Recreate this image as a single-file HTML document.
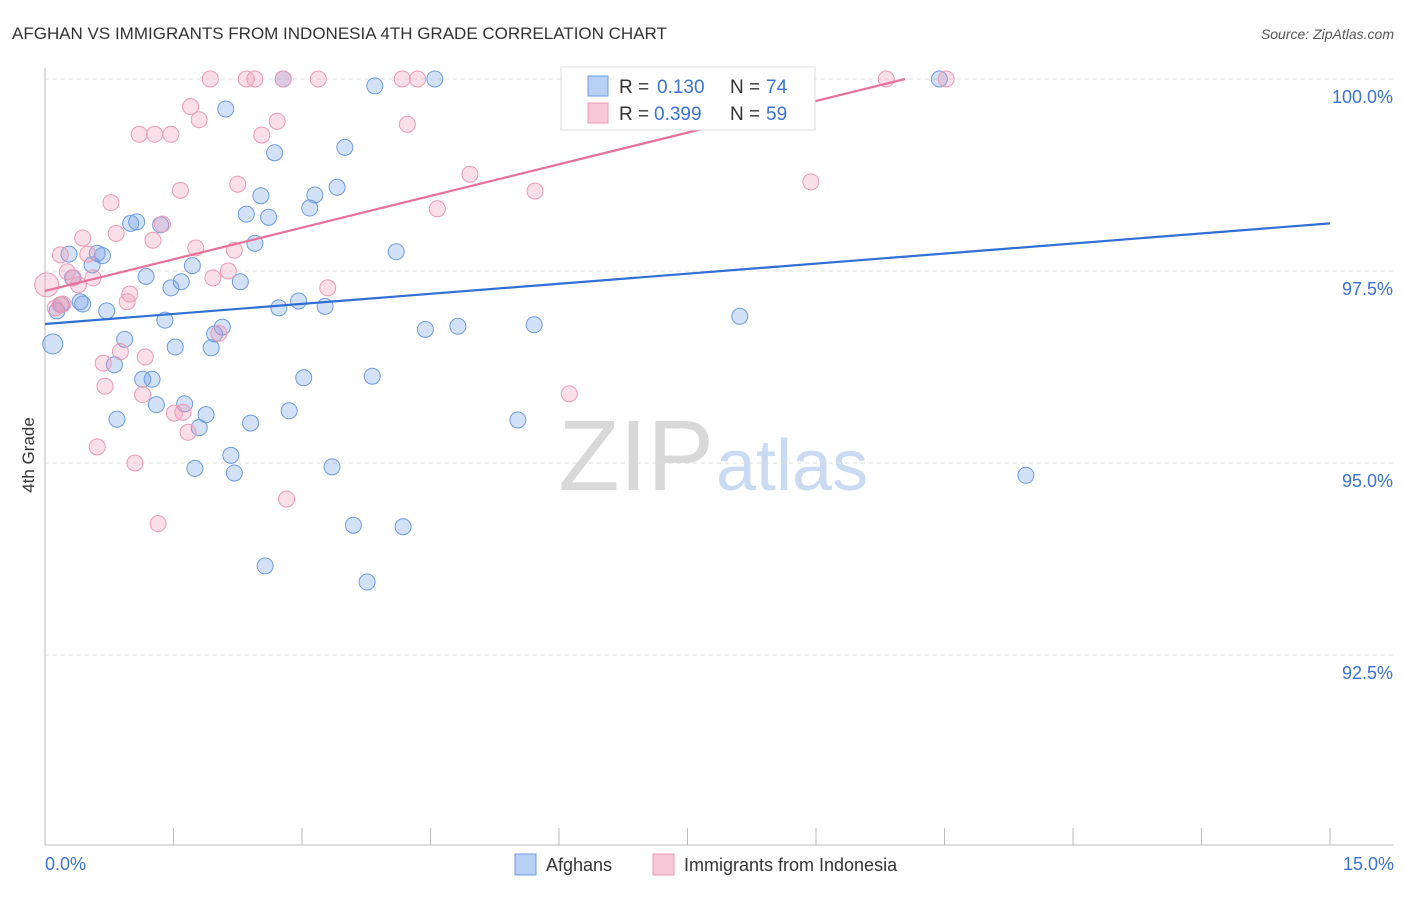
<!DOCTYPE html>
<html><head><meta charset="utf-8"><style>
body{margin:0;background:#fff;font-family:"Liberation Sans",sans-serif}
svg text{font-family:"Liberation Sans",sans-serif}
</style></head><body>
<svg id="c" width="1406" height="892">
<text x="12" y="39" font-size="17" fill="#333">AFGHAN VS IMMIGRANTS FROM INDONESIA 4TH GRADE CORRELATION CHART</text>
<text x="1394" y="39" font-size="14" fill="#555" text-anchor="end" font-style="italic">Source: ZipAtlas.com</text>
<text x="714" y="490" font-size="100" fill="#d8d8d8" text-anchor="end" font-family="Liberation Serif">ZIP</text>
<text x="716" y="490" font-size="72" fill="#c9daf2">atlas</text>
<text x="34" y="455" font-size="17" fill="#333" text-anchor="middle" transform="rotate(-90 34 455)">4th Grade</text>
<g id="grid"></g><g id="pts"></g><g id="trend"></g>
<g>
<rect x="561" y="67" width="254" height="63" fill="#fff" stroke="#ddd"/>
<rect x="588" y="76" width="20" height="20" fill="#b8d0f4" stroke="#6c9be0"/>
<text x="619" y="93" font-size="19" fill="#333">R =</text>
<text x="657" y="93" font-size="19" fill="#3a72d6">0.130</text>
<text x="730" y="93" font-size="19" fill="#333">N =</text>
<text x="766" y="93" font-size="19" fill="#3a72d6">74</text>
<rect x="588" y="103" width="20" height="20" fill="#f8c8d8" stroke="#eb9ab5"/>
<text x="619" y="120" font-size="19" fill="#333">R =</text>
<text x="654" y="120" font-size="19" fill="#3a72d6">0.399</text>
<text x="730" y="120" font-size="19" fill="#333">N =</text>
<text x="766" y="120" font-size="19" fill="#3a72d6">59</text>
</g>
<g>
<rect x="515" y="854" width="21" height="21" fill="#b8d0f4" stroke="#6c9be0"/>
<text x="546" y="871" font-size="18" fill="#333">Afghans</text>
<rect x="653" y="854" width="21" height="21" fill="#f8c8d8" stroke="#eb9ab5"/>
<text x="684" y="871" font-size="18" fill="#333">Immigrants from Indonesia</text>
</g>
</svg>
<script>
const blueX=[0.28,0.61,0.67,0.55,0.32,0.09,0.14,0.19,0.41,0.44,0.72,0.81,0.84,0.93,1.00,1.07,1.18,1.14,1.25,1.30,1.35,1.40,1.47,1.52,1.59,1.63,1.72,1.75,1.80,1.88,1.94,1.98,2.07,2.11,2.17,2.21,2.28,2.35,2.40,2.45,2.52,2.57,2.61,2.68,2.73,2.78,2.85,2.96,3.02,3.09,3.15,3.27,3.35,3.41,3.50,3.60,3.76,3.82,3.85,4.10,4.18,4.44,4.55,4.82,5.52,5.71,7.83,8.11,11.45,10.44,6.85];
const blueY=[97.72,97.73,97.70,97.58,97.41,96.55,96.98,97.06,97.10,97.07,96.98,96.28,95.57,96.61,98.12,98.14,97.43,96.09,96.09,95.76,98.10,96.86,97.28,96.51,97.36,95.77,97.57,94.93,95.46,95.63,96.50,96.68,96.77,99.61,95.10,94.87,97.36,98.24,95.52,97.86,98.48,93.66,98.20,99.04,97.02,100,95.68,97.11,96.11,98.32,98.49,97.04,94.95,98.59,99.11,94.19,93.45,96.13,99.91,97.75,94.17,96.74,100,96.78,95.56,96.80,100,96.91,94.84,100,100];
const pinkX=[0.02,0.12,0.18,0.21,0.26,0.33,0.39,0.44,0.50,0.56,0.61,0.68,0.70,0.77,0.83,0.88,0.96,0.99,1.10,1.14,1.17,1.26,1.28,1.32,1.37,1.47,1.51,1.58,1.61,1.67,1.70,1.76,1.80,1.93,1.96,2.03,2.14,2.21,2.25,2.35,2.45,2.53,2.71,2.78,2.82,3.19,3.30,4.17,4.23,4.35,4.58,4.96,5.72,6.12,8.94,9.82,10.52,1.05,0.18];
const pinkY=[97.32,97.02,97.71,97.07,97.49,97.41,97.32,97.93,97.72,97.41,95.21,96.30,96.00,98.39,97.99,96.45,97.10,97.20,99.28,95.89,96.38,97.90,99.28,94.21,98.11,99.28,95.65,98.55,95.66,95.40,99.64,97.80,99.47,100,97.41,96.69,97.50,97.77,98.63,100,100,99.27,99.45,100,94.53,100,97.28,100,99.41,100,98.31,98.76,98.54,95.90,98.66,100,100,95.00,97.06];
const blueTrendX=[0,15], blueTrendY=[96.81,98.12];
const pinkTrendX=[0,10.04], pinkTrendY=[97.24,100];
const yTicks=[100,97.5,95,92.5], yTickLabels=["100.0%","97.5%","95.0%","92.5%"];
const xTicks=[0,1.5,3,4.5,6,7.5,9,10.5,12,13.5,15];
const NS="http://www.w3.org/2000/svg";
const sx=v=>45+v/15*1285, sy=v=>79+(100-v)/2.5*192;
function mk(t,a,p){const e=document.createElementNS(NS,t);for(const k in a)e.setAttribute(k,a[k]);p.appendChild(e);return e;}
const G=document.getElementById('grid');
yTicks.forEach((v,i)=>{
 const l=mk('line',{x1:45,x2:1394,y1:sy(v),y2:sy(v),stroke:'#ddd','stroke-dasharray':'4 4'},G);
 
 
 const t=mk('text',{x:1393,y:sy(v)+24,'font-size':18,fill:'#3a72d6','text-anchor':'end'},G);t.textContent=yTickLabels[i];
 
 
});
const ax=mk('line',{x1:45,x2:45,y1:68,y2:845,stroke:'#bbb'},G);


const bx=mk('line',{x1:45,x2:1394,y1:845,y2:845,stroke:'#bbb'},G);


xTicks.forEach(v=>{const t=mk('line',{x1:sx(v),x2:sx(v),y1:828,y2:845,stroke:'#bbb'},G);
 
 });
[[0,"0.0%",'start',45],[15,"15.0%",'end',1394]].forEach(d=>{const t=mk('text',{x:d[3],y:870,'font-size':18,fill:'#3a72d6','text-anchor':d[2]},G);t.textContent=d[1];
 
 });
const P=document.getElementById('pts');
blueX.forEach((v,i)=>{const c=mk('circle',{cx:sx(v),cy:sy(blueY[i]),r:i==5?10:8,fill:'rgba(110,155,230,0.3)',stroke:'#6c9be0','stroke-width':1},P);
 
 });
pinkX.forEach((v,i)=>{const c=mk('circle',{cx:sx(v),cy:sy(pinkY[i]),r:i==0?12:8,fill:'rgba(240,150,180,0.3)',stroke:'#eb9ab5','stroke-width':1},P);
 
 });
const T=document.getElementById('trend');
const b=mk('line',{x1:sx(blueTrendX[0]),y1:sy(blueTrendY[0]),x2:sx(blueTrendX[1]),y2:sy(blueTrendY[1]),stroke:'#2f6fd6','stroke-width':2.2},T);


const p=mk('line',{x1:sx(pinkTrendX[0]),y1:sy(pinkTrendY[0]),x2:sx(pinkTrendX[1]),y2:sy(pinkTrendY[1]),stroke:'#e8709a','stroke-width':2.2},T);


</script>
</body></html>
